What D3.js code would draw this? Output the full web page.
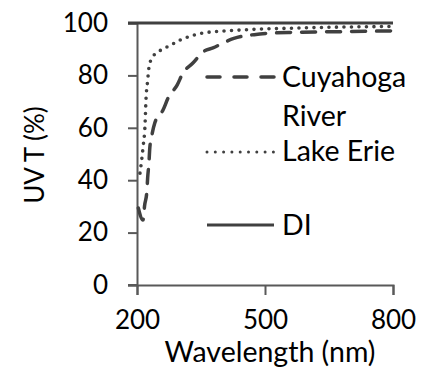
<!DOCTYPE html>
<html>
<head>
<meta charset="utf-8">
<script src="https://cdn.jsdelivr.net/npm/d3@7"></script>
<style>
  html, body { margin: 0; padding: 0; background: #fff; }
  svg { display: block; }
  text { font-family: Lato, "Open Sans", sans-serif; fill: #000; }
</style>
</head>
<body>
<svg id="chart" width="428" height="373"></svg>
<script>
// UV transmittance spectra (wavelength nm, transmittance %)
const cuyahogaWl = [203, 214, 218, 223, 225, 228, 230, 235, 242, 261, 273, 294, 308, 331, 355, 378, 427, 488, 559, 680, 800];
const cuyahogaT  = [29.4, 24.8, 30.5, 35.5, 41, 46.6, 52.3, 57.3, 62, 66.8, 71.4, 76.3, 81, 84.7, 89, 90.5, 94.1, 95.8, 96.4, 96.7, 97];

const erieWl = [207, 214, 219, 221, 225, 228, 235, 249, 266, 284, 301, 320, 355, 441, 582, 800];
const erieT  = [42.7, 52.3, 61.8, 70.6, 78, 83, 86.6, 88.9, 90.5, 92, 93.5, 94.7, 96.2, 97.3, 98.1, 98.7];

const diWl = [200, 800];
const diT  = [100, 100];

const xTicks = [200, 500, 800];
const yTicks = [0, 20, 40, 60, 80, 100];

const seriesNames = ["Cuyahoga River", "Lake Erie", "DI"];

const svg = d3.select("#chart");
const ink = "#404040";
const axisInk = "#595959";

const x = d3.scaleLinear().domain([200, 800]).range([137, 393]);
const y = d3.scaleLinear().domain([0, 100]).range([285, 23]);

// Axes
const yAxis = svg.append("g")
  .attr("transform", `translate(${x(200)},0)`)
  .call(d3.axisLeft(y).tickValues(yTicks).tickSize(9).tickPadding(20).tickFormat(d3.format("d")));
const xAxis = svg.append("g")
  .attr("transform", `translate(0,${y(0)})`)
  .call(d3.axisBottom(x).tickValues(xTicks).tickSize(10).tickPadding(16).tickFormat(d3.format("d")));

[yAxis, xAxis].forEach(g => {
  g.select(".domain").attr("stroke", axisInk).attr("stroke-width", 2);
  g.selectAll(".tick line").attr("stroke", axisInk).attr("stroke-width", 2);
  g.selectAll(".tick text").attr("font-size", 26).attr("fill", "#000")
    .style("font-family", "Lato, 'Open Sans', sans-serif");
});
// x axis line also extends left to meet the y tick length
svg.append("line")
  .attr("x1", x(200) - 9).attr("x2", x(200))
  .attr("y1", y(0)).attr("y2", y(0))
  .attr("stroke", axisInk).attr("stroke-width", 2);

// Axis titles
svg.append("text")
  .attr("transform", `translate(44,155) rotate(-90)`)
  .attr("text-anchor", "middle")
  .attr("font-size", 26)
  .text("UV T (%)");
svg.append("text")
  .attr("x", 270).attr("y", 362)
  .attr("text-anchor", "middle")
  .attr("font-size", 28.5)
  .text("Wavelength (nm)");

// Series lines
const line = d3.line().x(d => x(d[0])).y(d => y(d[1])).curve(d3.curveMonotoneX);
const zip = (a, b) => a.map((v, i) => [v, b[i]]);

const styles = {
  "Cuyahoga River": { dash: "14 11", width: 3.5, cap: "round" },
  "Lake Erie": { dash: "0 7.5", width: 3.6, cap: "round" },
  "DI": { dash: null, width: 3, cap: "butt" }
};

const seriesData = [
  { name: seriesNames[0], pts: zip(cuyahogaWl, cuyahogaT) },
  { name: seriesNames[1], pts: zip(erieWl, erieT) },
  { name: seriesNames[2], pts: zip(diWl, diT) }
];

seriesData.forEach(s => {
  const st = styles[s.name];
  svg.append("path")
    .attr("d", line(s.pts))
    .attr("fill", "none")
    .attr("stroke", ink)
    .attr("stroke-width", st.width)
    .attr("stroke-linecap", st.cap)
    .attr("stroke-dasharray", st.dash);
});
// DI line at 100 spans the full top edge including the tick
svg.append("line")
  .attr("x1", x(200) - 9).attr("x2", x(200))
  .attr("y1", y(100)).attr("y2", y(100))
  .attr("stroke", ink).attr("stroke-width", 3);

// Legend
const legend = [
  { name: seriesNames[0], lines: ["Cuyahoga", "River"], ly: 77, ty: 87 },
  { name: seriesNames[1], lines: ["Lake Erie"], ly: 152, ty: 161 },
  { name: seriesNames[2], lines: ["DI"], ly: 225, ty: 235 }
];
legend.forEach(l => {
  const st = styles[l.name];
  svg.append("line")
    .attr("x1", 207).attr("x2", 274)
    .attr("y1", l.ly).attr("y2", l.ly)
    .attr("stroke", ink)
    .attr("stroke-width", l.name === "Lake Erie" ? 3 : st.width)
    .attr("stroke-linecap", st.cap)
    .attr("stroke-dasharray", l.name === "Cuyahoga River" ? "13 14" : (l.name === "Lake Erie" ? "0 8.3" : null));
  const t = svg.append("text").attr("x", 282).attr("y", l.ty).attr("font-size", 28.5);
  l.lines.forEach((s, i) => {
    t.append("tspan").attr("x", 282).attr("dy", i === 0 ? 0 : 39).text(s);
  });
});
</script>
</body>
</html>
